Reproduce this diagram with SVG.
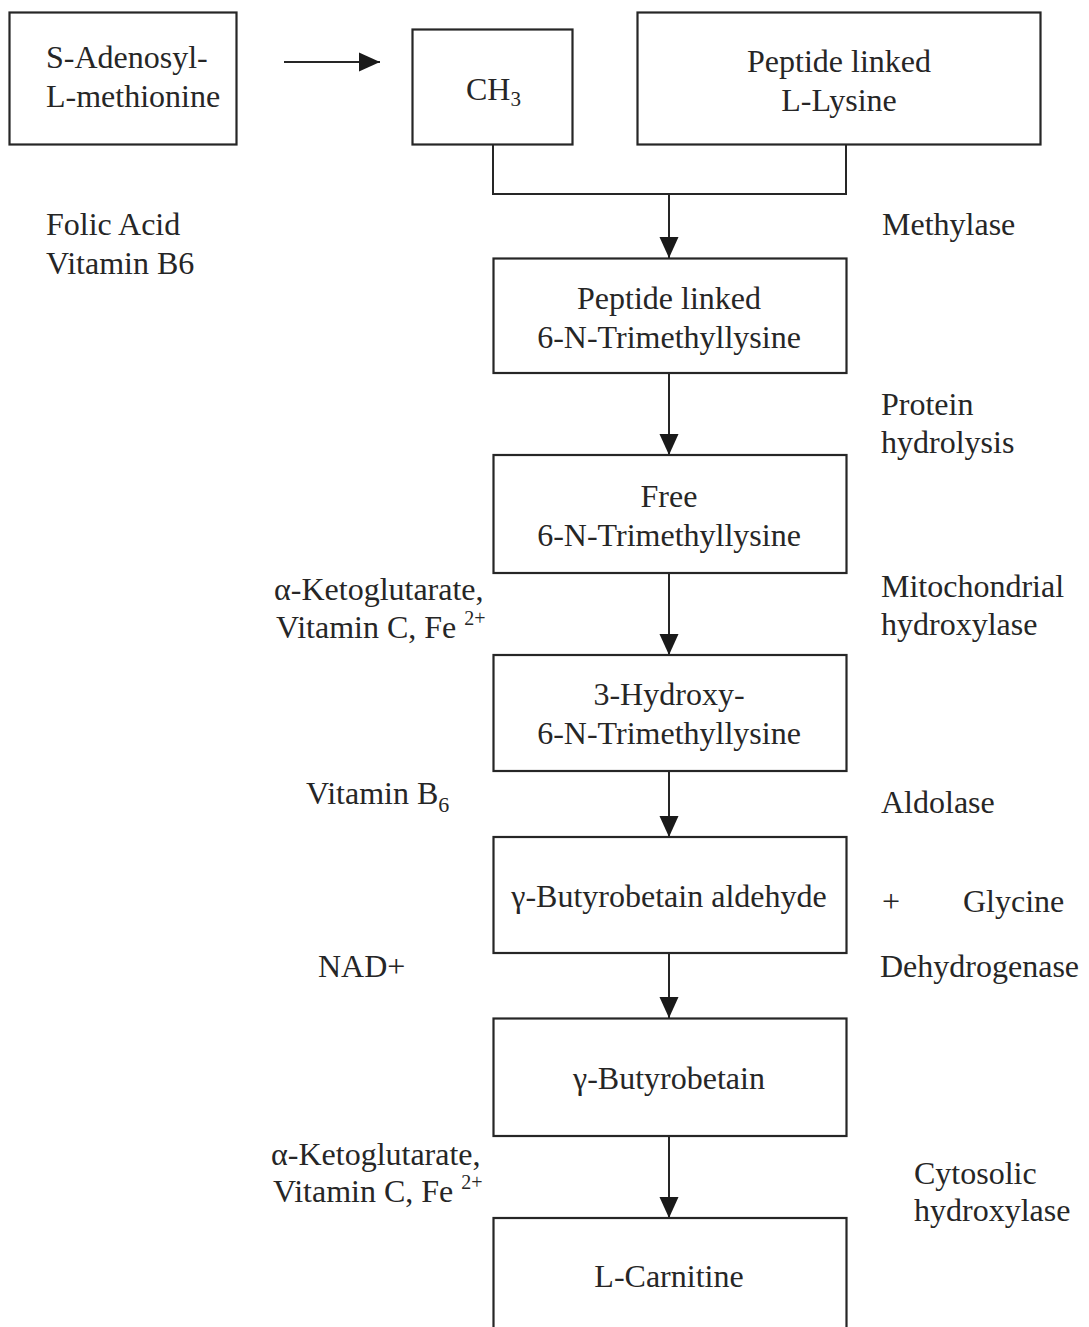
<svg xmlns="http://www.w3.org/2000/svg" width="1089" height="1327" viewBox="0 0 1089 1327">
<style>
  text { font-family: "Liberation Serif", "Times New Roman", serif; font-size: 32px; fill: #262626; }
  .c { text-anchor: middle; }
  .box { fill: #ffffff; stroke: #262626; stroke-width: 2.2; }
  .line { fill: none; stroke: #262626; stroke-width: 2; }
</style>
<defs>
  <marker id="ah" markerUnits="userSpaceOnUse" markerWidth="22" markerHeight="20" refX="21" refY="10" orient="auto" viewBox="0 0 22 20">
    <path d="M0,0.5 L21,10 L0,19.5 z" fill="#1a1a1a"/>
  </marker>
</defs>
<rect width="1089" height="1327" fill="#ffffff"/>

<g id="connectors">
  <line class="line" x1="284" y1="62" x2="380" y2="62" marker-end="url(#ah)"/>
  <polyline class="line" points="493,144 493,194 846,194 846,144"/>
  <line class="line" x1="669" y1="194" x2="669" y2="258" marker-end="url(#ah)"/>
  <line class="line" x1="669" y1="373" x2="669" y2="455" marker-end="url(#ah)"/>
  <line class="line" x1="669" y1="573" x2="669" y2="655" marker-end="url(#ah)"/>
  <line class="line" x1="669" y1="771" x2="669" y2="837" marker-end="url(#ah)"/>
  <line class="line" x1="669" y1="953" x2="669" y2="1018" marker-end="url(#ah)"/>
  <line class="line" x1="669" y1="1136" x2="669" y2="1218" marker-end="url(#ah)"/>
</g>

<g id="node-sam">
  <rect class="box" x="9.5" y="12.5" width="227" height="132"/>
  <text x="46" y="68">S-Adenosyl-</text>
  <text x="46" y="107">L-methionine</text>
</g>
<g id="node-ch3">
  <rect class="box" x="412.5" y="29.5" width="160" height="115"/>
  <text x="466" y="100">CH<tspan font-size="21" dy="6">3</tspan></text>
</g>
<g id="node-lysine">
  <rect class="box" x="637.5" y="12.5" width="403" height="132"/>
  <text class="c" x="839" y="72">Peptide linked</text>
  <text class="c" x="839" y="111">L-Lysine</text>
</g>
<g id="node-pl-tml">
  <rect class="box" x="493.5" y="258.5" width="353" height="114.5"/>
  <text class="c" x="669" y="309">Peptide linked</text>
  <text class="c" x="669" y="348">6-N-Trimethyllysine</text>
</g>
<g id="node-free-tml">
  <rect class="box" x="493.5" y="455" width="353" height="118"/>
  <text class="c" x="669" y="507">Free</text>
  <text class="c" x="669" y="546">6-N-Trimethyllysine</text>
</g>
<g id="node-hydroxy-tml">
  <rect class="box" x="493.5" y="655" width="353" height="116"/>
  <text class="c" x="669" y="705">3-Hydroxy-</text>
  <text class="c" x="669" y="744">6-N-Trimethyllysine</text>
</g>
<g id="node-gbb-aldehyde">
  <rect class="box" x="493.5" y="837" width="353" height="116"/>
  <text class="c" x="669" y="907">γ-Butyrobetain aldehyde</text>
</g>
<g id="node-gbb">
  <rect class="box" x="493.5" y="1018.5" width="353" height="117.5"/>
  <text class="c" x="669" y="1089">γ-Butyrobetain</text>
</g>
<g id="node-carnitine">
  <rect class="box" x="493.5" y="1218" width="353" height="140"/>
  <text class="c" x="669" y="1287">L-Carnitine</text>
</g>

<g id="labels-left">
  <text x="46" y="235">Folic Acid</text>
  <text x="46" y="274">Vitamin B6</text>
  <text x="274" y="600">α-Ketoglutarate,</text>
  <text x="276" y="638">Vitamin C, Fe <tspan font-size="20" dy="-13">2+</tspan></text>
  <text x="306" y="804">Vitamin B<tspan font-size="22" dy="8">6</tspan></text>
  <text x="318" y="977">NAD+</text>
  <text x="271" y="1165">α-Ketoglutarate,</text>
  <text x="273" y="1202">Vitamin C, Fe <tspan font-size="20" dy="-13">2+</tspan></text>
</g>
<g id="labels-right">
  <text x="882" y="235">Methylase</text>
  <text x="881" y="415">Protein</text>
  <text x="881" y="453">hydrolysis</text>
  <text x="881" y="597">Mitochondrial</text>
  <text x="881" y="635">hydroxylase</text>
  <text x="881" y="813">Aldolase</text>
  <text x="882" y="912">+</text>
  <text x="963" y="912">Glycine</text>
  <text x="880" y="977">Dehydrogenase</text>
  <text x="914" y="1184">Cytosolic</text>
  <text x="914" y="1221">hydroxylase</text>
</g>
</svg>
